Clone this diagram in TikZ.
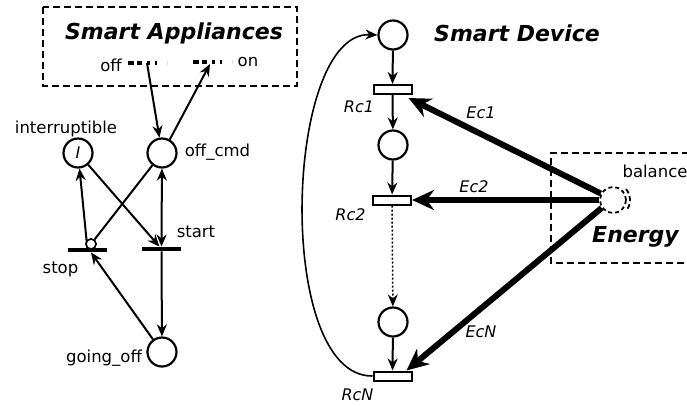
\documentclass[tikz,border=0pt]{standalone}
\usepackage{fontspec}
\setmainfont{DejaVu Sans}[BoldFont={DejaVu Sans Bold},ItalicFont={DejaVu Sans Oblique},BoldItalicFont={DejaVu Sans Bold Oblique}]
\usetikzlibrary{arrows.meta}
\begin{document}
\begin{tikzpicture}[x=1pt,y=-1pt,
  place/.style={circle,draw,line width=2.2pt,minimum size=29pt,inner sep=0pt},
  tbar/.style={rectangle,fill=black,minimum width=39pt,minimum height=4.5pt,inner sep=0pt},
  trect/.style={rectangle,draw,fill=white,line width=2pt,minimum width=38pt,minimum height=9pt,inner sep=0pt},
  lbl/.style={font=\fontsize{16.5}{19}\selectfont,inner sep=0pt,anchor=base},
  ilbl/.style={font=\fontsize{16}{19}\selectfont\itshape,inner sep=0pt,anchor=base},
  ttl/.style={font=\fontsize{22}{26}\selectfont\bfseries\itshape,inner sep=0pt,anchor=base},
  arr/.style={line width=2pt,-{Stealth[length=12pt,width=10pt]}},
  darr/.style={line width=2pt,{Stealth[length=12pt,width=10pt]}-{Stealth[length=12pt,width=10pt]}},
  thickarr/.style={line width=6pt,-{Stealth[length=22pt,width=20pt]}},
  boxline/.style={line width=2pt,dash pattern=on 7pt off 4pt},
  sigline/.style={line width=3.5pt,dash pattern=on 6pt off 3pt on 5pt off 5pt on 3pt off 5pt on 2pt off 10pt}]
\useasboundingbox (0,0) rectangle (687,405);

% ---------- Smart Appliances ----------
\draw[boxline] (43,7) rectangle (297,86);
\node[ttl] (tsa) at (174,39) {Smart Appliances};
\node[lbl] (toff) at (111,71) {off};
\node[lbl] (ton) at (248,66) {on};
\coordinate (offA) at (128,63);
\coordinate (offB) at (167,63);
\coordinate (onA) at (193,62);
\coordinate (onB) at (232,62);
\draw[sigline] (offA) -- (offB);
\draw[sigline] (onA) -- (onB);
\coordinate (offsig) at (147,63);
\coordinate (onsig) at (210,64);

\node[place] (intr) at (78,153) {\fontsize{16}{19}\selectfont\itshape I};
\node[place] (offcmd) at (162,153) {};
\node[place] (going) at (162,352) {};
\node[tbar] (stop) at (87.5,250) {};
\node[tbar] (start) at (161.5,249) {};
\node[circle,draw,fill=white,line width=1.5pt,minimum size=10pt,inner sep=0pt] (inh) at (91,244) {};

\node[lbl] (tintr) at (66,133) {interruptible};
\node[lbl] (toffcmd) at (217.5,156) {off\_cmd};
\node[lbl] (tstop) at (60.5,273) {stop};
\node[lbl] (tstart) at (196,237) {start};
\node[lbl] (tgoing) at (104,362) {going\_off};

\draw[arr] (offsig) -- (offcmd);
\draw[arr] (offcmd.60) -- (onsig);
\draw[arr] (stop) -- (intr);
\draw[arr] (intr) -- (start);
\draw[line width=2pt] (offcmd) -- (inh);
\draw[darr] (start) -- (offcmd);
\draw[arr] (start) -- (going);
\draw[arr] (going) -- ([xshift=3.5pt]stop.south);
\node[circle,draw,fill=white,line width=1.5pt,minimum size=10pt,inner sep=0pt] at (inh) {};

% ---------- Smart Device ----------
\node[ttl] (tsd) at (517,41) {Smart Device};
\node[place] (p1) at (393,35) {};
\node[trect] (rc1) at (392.5,89.5) {};
\node[place] (p2) at (393,145) {};
\node[trect] (rc2) at (392,200) {};
\node[place] (p3) at (393,322) {};
\node[trect] (rcn) at (392.5,376) {};
\node[ilbl] (trc1) at (359,112) {Rc1};
\node[ilbl] (trc2) at (350.5,220) {Rc2};
\node[ilbl] (trcn) at (357.5,400) {RcN};

\draw[arr] (p1) -- (rc1);
\draw[arr] (rc1) -- (p2);
\draw[arr] (p2) -- (rc2);
\draw[arr,dotted,line width=1.5pt] (rc2) -- (p3);
\draw[arr] (p3) -- (rcn);
\draw[line width=1.6pt,-{Stealth[length=12pt,width=10pt]}] (rcn.west) .. controls (274,377) and (284,31) .. (p1.west);

% ---------- Energy ----------
\draw[boxline] (700,153) -- (551,153) -- (551,263) -- (700,263);
\node[circle,draw,line width=1.8pt,dash pattern=on 4pt off 3pt,minimum size=26pt,inner sep=0pt] (bal) at (613,200) {};
\draw[line width=1.8pt,dash pattern=on 5pt off 3pt] (613,200) ++(-40:17) arc[start angle=-40,end angle=40,radius=17];
\node[lbl] (tbal) at (655,177) {balance};
\node[ttl] (tenergy) at (635.5,242) {Energy};

\draw[thickarr] (bal.152) -- ([xshift=-4pt,yshift=-3pt]rc1.south east);
\draw[thickarr] (bal.west) -- (rc2.east);
\draw[thickarr] (bal.215) -- ([xshift=-6pt]rcn.north east);
\node[ilbl] (tec1) at (481,118) {Ec1};
\node[ilbl] (tec2) at (474,192) {Ec2};
\node[ilbl] (tecn) at (481,337) {EcN};
\end{tikzpicture}
\end{document}
